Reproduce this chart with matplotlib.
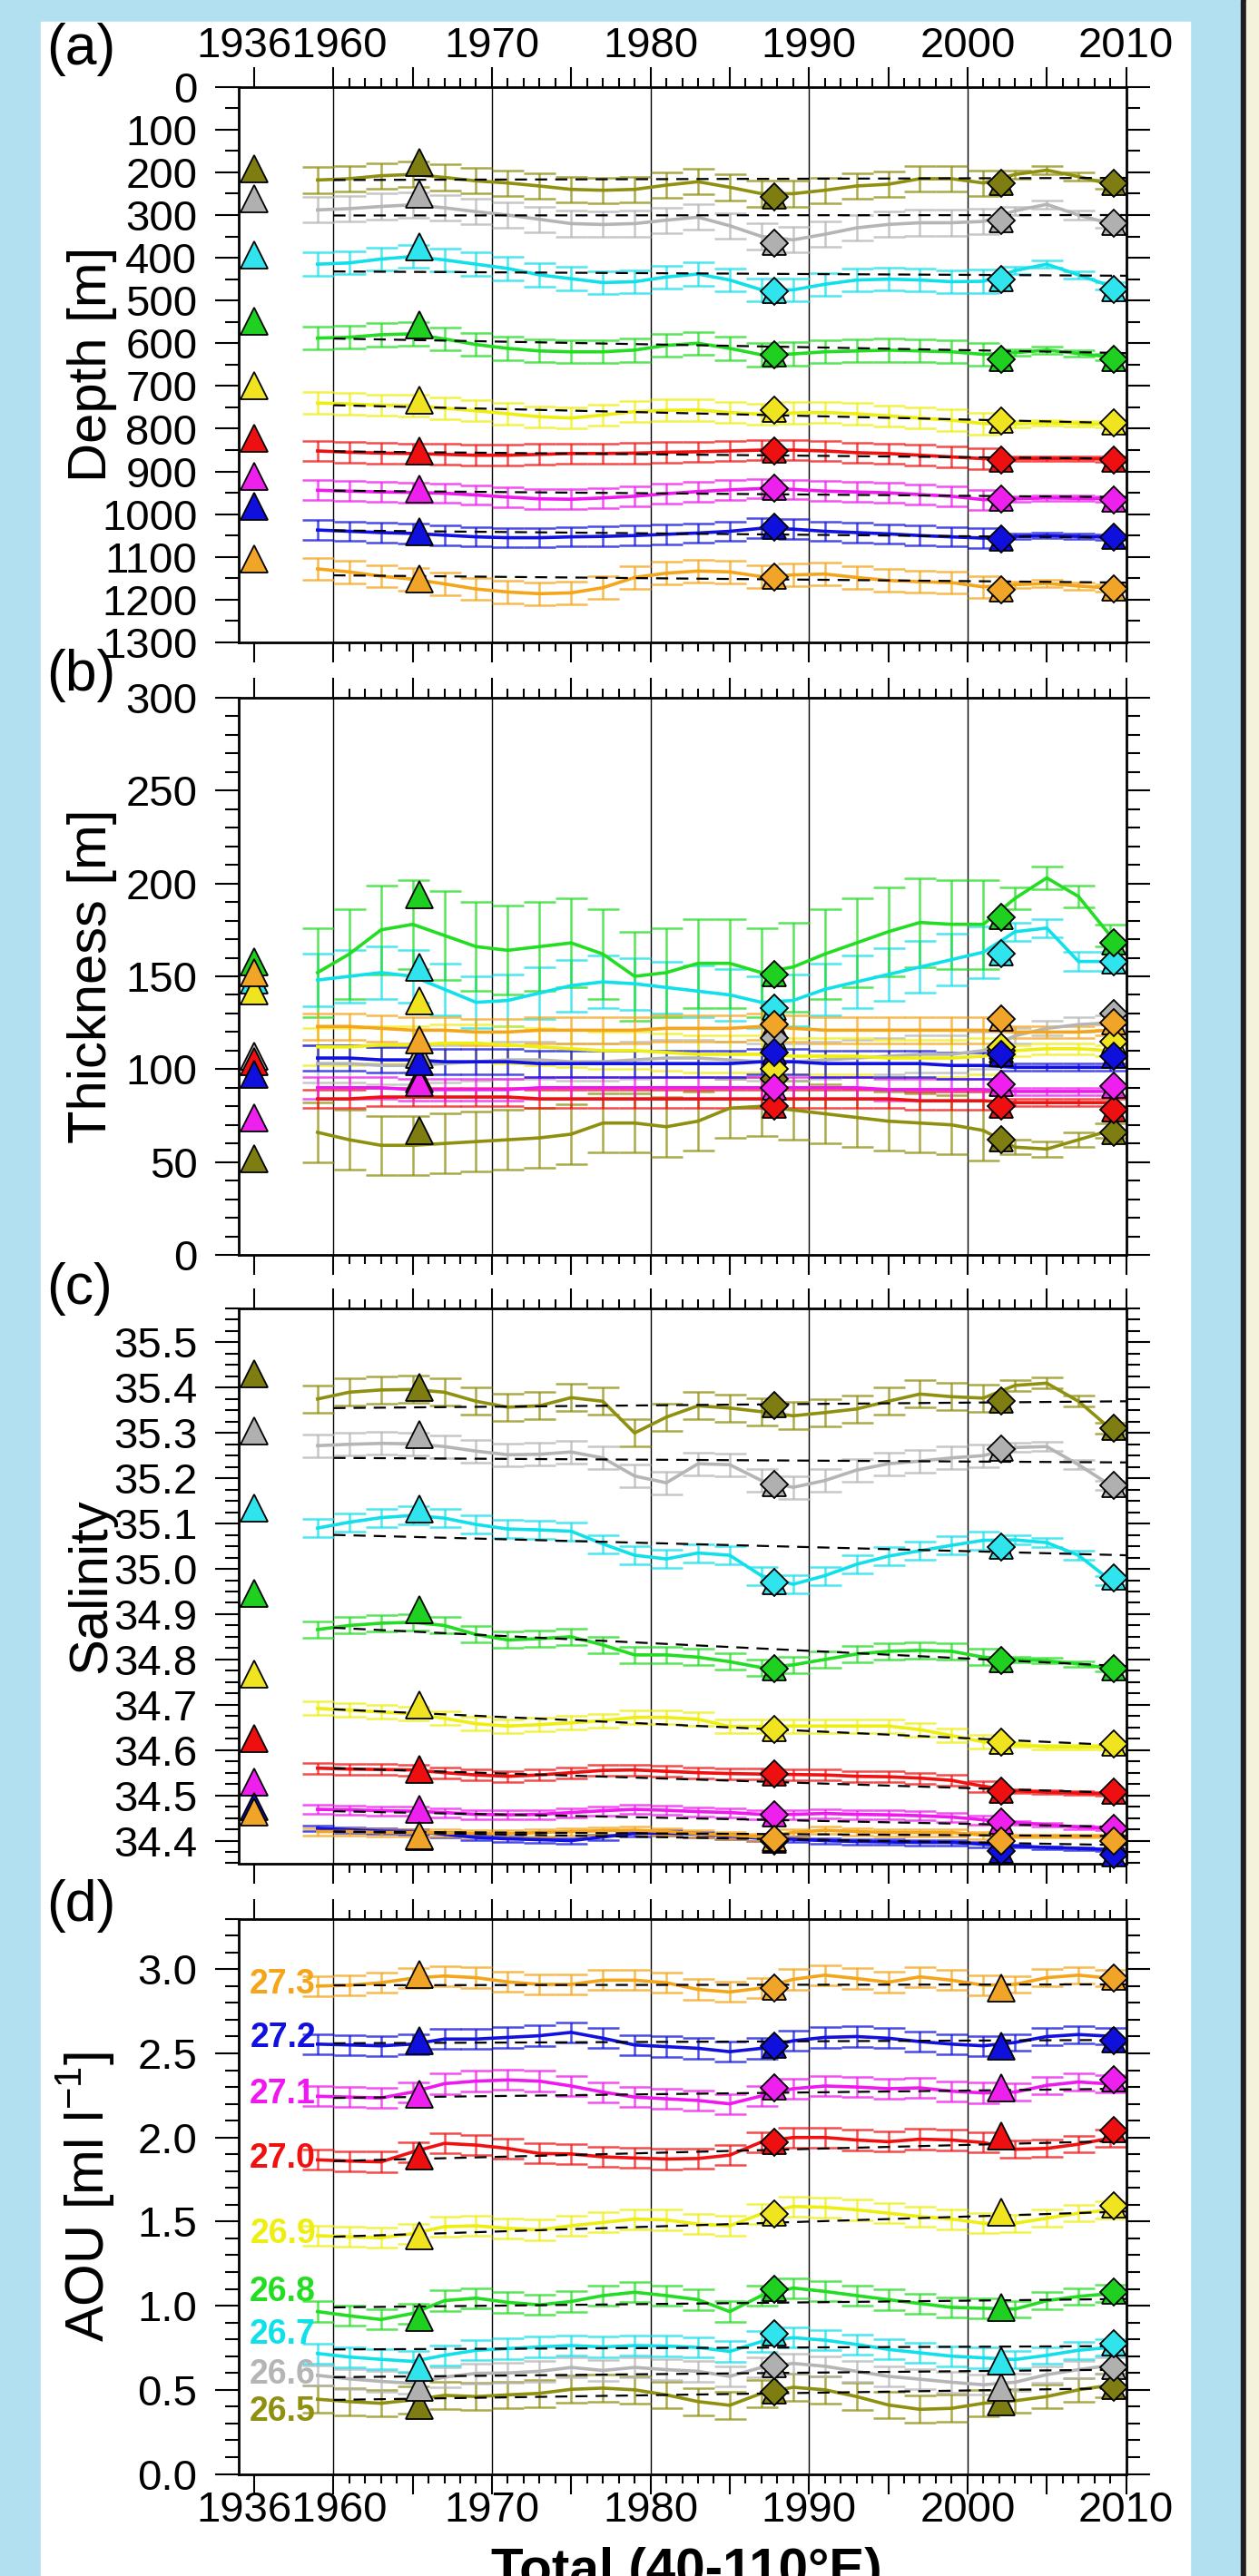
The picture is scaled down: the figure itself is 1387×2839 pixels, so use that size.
import numpy as np
import matplotlib.pyplot as plt
from matplotlib.patches import Rectangle
from matplotlib.ticker import FixedLocator, MultipleLocator, FormatStrFormatter

plt.rcParams['font.family'] = ['Liberation Sans', 'DejaVu Sans']
plt.rcParams['mathtext.fontset'] = 'custom'
plt.rcParams['mathtext.rm'] = 'Liberation Sans'

# ---------------- data ----------------
layers = ['26.5', '26.6', '26.7', '26.8', '26.9', '27.0', '27.1', '27.2', '27.3']
line_colors = ['#8f8f10', '#b5b5b5', '#10e0ea', '#22dd22', '#eeee10',
               '#f01010', '#f018f0', '#1010e0', '#f5a51a']
marker_colors = ['#7d7d12', '#b0b0b0', '#30e4ee', '#20d020', '#f0e420',
                 '#ee1010', '#ee20ee', '#1010dd', '#f0a428']

years = list(range(1959, 2010, 2))        # smoothed series, 1959..2009
n_main = 22                               # 1959..2001 carry the wide error bars
cruise_years = [1965.4, 1987.8, 2002.1, 2009.2]
year_1936 = 1955                          # where the 1936 survey is drawn on the broken axis

# (a) depth [m]
depth = [
    [218, 215, 208, 205, 212, 220, 225, 232, 240, 242, 240, 230, 222, 235, 250, 250, 242, 232, 228, 215, 215, 225, 205, 195, 210, 228],
    [288, 285, 280, 276, 283, 292, 300, 310, 320, 322, 320, 312, 305, 325, 350, 358, 345, 330, 322, 318, 318, 315, 290, 275, 300, 320],
    [415, 412, 403, 397, 405, 415, 425, 440, 449, 458, 456, 445, 438, 452, 475, 475, 462, 452, 450, 452, 456, 455, 430, 415, 440, 466],
    [588, 586, 580, 578, 590, 603, 612, 618, 620, 620, 616, 605, 600, 612, 627, 625, 620, 618, 616, 618, 620, 626, 622, 616, 624, 632],
    [740, 742, 745, 746, 752, 758, 765, 772, 775, 768, 760, 757, 756, 762, 766, 763, 762, 765, 770, 775, 780, 788, 789, 786, 788, 790],
    [852, 855, 857, 858, 860, 862, 862, 860, 858, 858, 857, 855, 854, 852, 850, 850, 852, 856, 858, 862, 866, 870, 870, 870, 870, 871],
    [944, 946, 948, 949, 951, 955, 960, 964, 965, 962, 958, 952, 947, 943, 940, 942, 946, 948, 950, 954, 958, 966, 964, 962, 963, 964],
    [1037, 1040, 1043, 1045, 1049, 1053, 1055, 1055, 1053, 1052, 1050, 1047, 1044, 1040, 1033, 1035, 1040, 1043, 1046, 1050, 1053, 1056, 1052, 1050, 1052, 1054],
    [1128, 1135, 1145, 1152, 1163, 1175, 1182, 1186, 1184, 1172, 1148, 1138, 1133, 1135, 1146, 1142, 1140, 1148, 1155, 1158, 1160, 1170, 1165, 1162, 1168, 1173],
]
depth_err = [30, 30, 27, 27, 25, 24, 23, 23, 26]
depth_err_late = [10, 10, 9, 8, 7, 6, 6, 6, 8]
depth_trend = [[218, 213], [301, 300], [432, 442], [589, 623], [745, 787],
               [853, 870], [945, 960], [1038, 1055], [1143, 1160]]
depth_1936 = [192, 262, 393, 548, 700, 823, 912, 982, 1105]
depth_cruise = [
    [177, 252, 374, 556, 733, 851, 941, 1042, 1151],
    [258, 365, 478, 627, 757, 851, 940, 1030, 1147],
    [225, 313, 450, 638, 782, 873, 965, 1057, 1176],
    [225, 320, 475, 638, 786, 873, 966, 1054, 1175],
]

# (b) thickness [m]
thick = [
    [66, 62, 59, 59, 60, 61, 62, 63, 65, 71, 71, 69, 72, 79, 80, 78, 76, 74, 72, 71, 70, 67, 58, 57, 62, 67],
    [103, 103, 102, 102, 103, 104, 105, 105, 104, 104, 105, 106, 106, 105, 104, 104, 105, 106, 107, 108, 108, 110, 118, 122, 124, 125],
    [148, 150, 152, 150, 143, 136, 137, 141, 145, 147, 146, 144, 142, 140, 136, 137, 143, 147, 151, 155, 159, 163, 174, 176, 158, 158],
    [152, 162, 175, 178, 172, 166, 164, 166, 168, 162, 150, 152, 157, 157, 152, 155, 162, 168, 174, 179, 178, 178, 192, 203, 193, 172],
    [112, 112, 113, 113, 114, 114, 113, 112, 111, 110, 110, 109, 108, 108, 108, 107, 107, 107, 106, 106, 106, 107, 110, 111, 111, 110],
    [84, 84, 85, 85, 85, 85, 85, 84, 84, 84, 84, 84, 84, 84, 84, 84, 84, 84, 84, 83, 83, 83, 82, 82, 82, 82],
    [90, 90, 90, 89, 89, 89, 89, 90, 90, 90, 90, 90, 90, 90, 90, 90, 90, 90, 89, 89, 89, 89, 88, 88, 88, 88],
    [106, 106, 105, 105, 104, 104, 104, 103, 103, 103, 103, 103, 103, 103, 104, 104, 103, 103, 103, 103, 102, 102, 101, 101, 101, 101],
    [123, 123, 122, 121, 121, 120, 120, 121, 121, 121, 121, 122, 122, 122, 123, 122, 121, 121, 121, 121, 121, 121, 120, 120, 120, 121],
]
thick_err = [16, 10, 14, 24, 10, 5, 6, 7, 7]
thick_err_late = [4, 4, 5, 6, 3, 2, 2, 2, 3]
thick_1936 = [52, 107, 148, 158, 142, 104, 74, 97, 152]
thick_cruise = [
    [67, 108, 155, 194, 137, 95, 93, 104, 116],
    [95, 117, 133, 151, 100, 80, 90, 109, 124],
    [62, 110, 162, 182, 112, 80, 92, 108, 127],
    [66, 130, 158, 168, 115, 78, 91, 107, 125],
]

# (c) salinity
salt = [
    [35.375, 35.39, 35.395, 35.396, 35.39, 35.37, 35.357, 35.36, 35.378, 35.37, 35.30, 35.335, 35.36, 35.355, 35.347, 35.338, 35.345, 35.353, 35.37, 35.386, 35.38, 35.377, 35.405, 35.41, 35.37, 35.31],
    [35.272, 35.275, 35.277, 35.276, 35.27, 35.26, 35.252, 35.253, 35.258, 35.245, 35.205, 35.19, 35.232, 35.23, 35.195, 35.18, 35.195, 35.218, 35.232, 35.238, 35.245, 35.25, 35.268, 35.27, 35.23, 35.185],
    [35.09, 35.103, 35.113, 35.118, 35.112, 35.098, 35.088, 35.086, 35.083, 35.055, 35.03, 35.022, 35.035, 35.03, 34.985, 34.966, 34.985, 35.01, 35.028, 35.04, 35.052, 35.063, 35.064, 35.058, 35.03, 34.975],
    [34.866, 34.875, 34.88, 34.882, 34.875, 34.855, 34.843, 34.846, 34.85, 34.832, 34.81, 34.81, 34.805, 34.795, 34.782, 34.788, 34.80, 34.812, 34.818, 34.82, 34.818, 34.805, 34.80, 34.797, 34.79, 34.78],
    [34.692, 34.688, 34.684, 34.68, 34.67, 34.658, 34.653, 34.656, 34.66, 34.665, 34.672, 34.672, 34.668, 34.652, 34.652, 34.653, 34.653, 34.653, 34.653, 34.645, 34.632, 34.618, 34.612, 34.607, 34.607, 34.607],
    [34.56, 34.558, 34.557, 34.556, 34.55, 34.545, 34.542, 34.545, 34.55, 34.555, 34.556, 34.553, 34.55, 34.548, 34.547, 34.546, 34.545, 34.542, 34.541, 34.538, 34.533, 34.52, 34.51, 34.507, 34.505, 34.503],
    [34.469, 34.468, 34.466, 34.465, 34.462, 34.458, 34.457, 34.458, 34.462, 34.466, 34.469, 34.467, 34.464, 34.462, 34.458, 34.458, 34.46, 34.458, 34.457, 34.455, 34.452, 34.446, 34.44, 34.435, 34.43, 34.427],
    [34.427, 34.424, 34.421, 34.42, 34.414, 34.407, 34.404, 34.402, 34.40, 34.408, 34.416, 34.417, 34.414, 34.41, 34.405, 34.403, 34.40, 34.398, 34.397, 34.396, 34.396, 34.392, 34.388, 34.385, 34.383, 34.38],
    [34.42, 34.42, 34.418, 34.418, 34.417, 34.416, 34.415, 34.418, 34.42, 34.422, 34.423, 34.42, 34.415, 34.412, 34.408, 34.418, 34.423, 34.42, 34.418, 34.418, 34.418, 34.412, 34.41, 34.41, 34.41, 34.41],
]
salt_err = [0.03, 0.025, 0.02, 0.018, 0.015, 0.012, 0.01, 0.006, 0.008]
salt_err_late = [0.012, 0.01, 0.01, 0.006, 0.005, 0.004, 0.004, 0.003, 0.003]
salt_trend = [[35.355, 35.37], [35.245, 35.235], [35.075, 35.03], [34.87, 34.785], [34.69, 34.61],
              [34.56, 34.505], [34.465, 34.43], [34.42, 34.39], [34.42, 34.41]]
salt_1936 = [35.43, 35.305, 35.135, 34.945, 34.768, 34.626, 34.53, 34.475, 34.463]
salt_cruise = [
    [35.40, 35.297, 35.132, 34.91, 34.70, 34.557, 34.47, 34.41, 34.412],
    [35.36, 35.186, 34.971, 34.78, 34.646, 34.547, 34.457, 34.40, 34.404],
    [35.37, 35.264, 35.048, 34.797, 34.618, 34.51, 34.442, 34.377, 34.40],
    [35.31, 35.185, 34.98, 34.78, 34.614, 34.507, 34.427, 34.37, 34.40],
]

# (d) AOU [ml/l]
aou = [
    [0.444, 0.43, 0.42, 0.44, 0.467, 0.46, 0.47, 0.479, 0.503, 0.51, 0.50, 0.47, 0.43, 0.408, 0.479, 0.515, 0.50, 0.46, 0.41, 0.384, 0.39, 0.42, 0.435, 0.46, 0.50, 0.527],
    [0.586, 0.565, 0.55, 0.539, 0.575, 0.598, 0.60, 0.61, 0.633, 0.615, 0.633, 0.62, 0.61, 0.58, 0.633, 0.657, 0.64, 0.61, 0.58, 0.563, 0.545, 0.53, 0.545, 0.59, 0.62, 0.645],
    [0.716, 0.695, 0.681, 0.669, 0.705, 0.735, 0.745, 0.755, 0.763, 0.755, 0.763, 0.76, 0.752, 0.728, 0.787, 0.81, 0.795, 0.77, 0.74, 0.72, 0.70, 0.69, 0.68, 0.705, 0.735, 0.752],
    [0.965, 0.94, 0.918, 0.954, 1.03, 1.045, 1.02, 1.005, 1.025, 1.06, 1.08, 1.06, 1.036, 0.965, 1.06, 1.105, 1.085, 1.06, 1.036, 1.013, 0.99, 0.985, 0.98, 1.03, 1.055, 1.072],
    [1.416, 1.41, 1.404, 1.428, 1.47, 1.475, 1.46, 1.451, 1.475, 1.495, 1.515, 1.51, 1.485, 1.475, 1.546, 1.59, 1.585, 1.57, 1.55, 1.53, 1.515, 1.49, 1.49, 1.52, 1.55, 1.569],
    [1.867, 1.86, 1.855, 1.914, 1.965, 1.955, 1.935, 1.905, 1.902, 1.885, 1.878, 1.872, 1.875, 1.895, 1.973, 2.00, 2.00, 1.985, 1.975, 1.99, 1.985, 1.97, 1.93, 1.935, 1.96, 1.996],
    [2.245, 2.24, 2.235, 2.27, 2.32, 2.335, 2.342, 2.335, 2.306, 2.27, 2.24, 2.23, 2.22, 2.20, 2.247, 2.29, 2.306, 2.30, 2.29, 2.295, 2.275, 2.265, 2.27, 2.31, 2.33, 2.318],
    [2.555, 2.55, 2.545, 2.555, 2.585, 2.585, 2.595, 2.605, 2.625, 2.59, 2.55, 2.54, 2.53, 2.51, 2.53, 2.575, 2.595, 2.60, 2.59, 2.57, 2.555, 2.545, 2.565, 2.60, 2.612, 2.602],
    [2.90, 2.905, 2.92, 2.947, 2.96, 2.95, 2.925, 2.91, 2.91, 2.935, 2.935, 2.92, 2.88, 2.865, 2.888, 2.94, 2.965, 2.945, 2.923, 2.955, 2.935, 2.905, 2.91, 2.95, 2.965, 2.947],
]
aou_err = [0.08, 0.06, 0.06, 0.06, 0.06, 0.06, 0.06, 0.06, 0.06]
aou_err_late = [0.07, 0.05, 0.05, 0.05, 0.05, 0.05, 0.05, 0.05, 0.05]
aou_trend = [[0.44, 0.51], [0.575, 0.62], [0.74, 0.76], [0.99, 1.04], [1.41, 1.56],
             [1.86, 1.98], [2.235, 2.29], [2.56, 2.58], [2.905, 2.91]]
aou_cruise = [
    [0.408, 0.516, 0.634, 0.93, 1.416, 1.89, 2.259, 2.578, 2.97],
    [0.49, 0.645, 0.835, 1.095, 1.546, 1.973, 2.294, 2.543, 2.888],
    [0.431, 0.516, 0.669, 0.99, 1.558, 2.008, 2.294, 2.543, 2.888],
    [0.515, 0.633, 0.776, 1.083, 1.593, 2.044, 2.342, 2.578, 2.947],
]
aou_label_y = [0.372, 0.593, 0.83, 1.084, 1.424, 1.874, 2.259, 2.591, 2.911]

# ---------------- figure ----------------
W, H = 1387, 2839
fig = plt.figure(figsize=(W / 100, H / 100), dpi=100, facecolor='#b3e0f0')
fig.patches.append(Rectangle((45 / W, 0), (1311 - 45) / W, (H - 24) / H,
                             transform=fig.transFigure, color='white', zorder=-10))
fig.patches.append(Rectangle((1367 / W, 0), 6 / W, 1, transform=fig.transFigure,
                             color='#1e1e1e', zorder=-10))
fig.patches.append(Rectangle((1373 / W, 0), (W - 1373) / W, 1, transform=fig.transFigure,
                             color='#f5f2dc', zorder=-10))

left, width = 262.5 / W, 978 / W
boxes = [(95.7, 708), (769, 1383), (1442, 2053.5), (2114.7, 2726.5)]
axes = [fig.add_axes([left, 1 - b / H, width, (b - t) / H]) for t, b in boxes]

TICK_FS = 34
major_x = list(range(1955, 2011, 5))
minor_x = [y for y in range(1961, 2010) if y % 5]
xlabels = ['' if (y % 10 or y < 1970) else str(y) for y in major_x]


def draw_panel(ax, series, err, err_late, trend, v1936, cruise, diamond_flags):
    for yr in [1960, 1970, 1980, 1990, 2000]:
        ax.axvline(yr, color='black', lw=1.0, zorder=1)
    for i in range(9):
        y = series[i]
        c = line_colors[i]
        ax.errorbar(years[:n_main], y[:n_main], yerr=err[i], fmt='none', ecolor=c,
                    alpha=0.75, elinewidth=1.8, capsize=12.6, capthick=1.8, zorder=2)
        ax.errorbar(years[n_main:], y[n_main:], yerr=err_late[i], fmt='none', ecolor=c,
                    alpha=0.75, elinewidth=1.8, capsize=12.6, capthick=1.8, zorder=2)
        ax.plot(years, y, color=c, lw=2.6, zorder=3)
        if trend is not None:
            ax.plot([1960, 2010], trend[i], color='black', lw=1.6, dashes=(6, 4), zorder=4)
    for i in range(9):
        mc = marker_colors[i]
        if v1936 is not None:
            ax.plot(year_1936, v1936[i], '^', ms=21, mfc=mc, mec='black', mew=1.3,
                    zorder=6, clip_on=False)
        for k, xk in enumerate(cruise_years):
            ax.plot(xk, cruise[k][i], '^', ms=21 if not diamond_flags[k] else 19,
                    mfc=mc, mec='black', mew=1.3, zorder=6, clip_on=False)
            if diamond_flags[k]:
                ax.plot(xk, cruise[k][i], 'D', ms=15, mfc=mc, mec='black', mew=1.3,
                        zorder=7, clip_on=False)

    ax.set_xlim(1954, 2010)
    ax.xaxis.set_major_locator(FixedLocator(major_x))
    ax.xaxis.set_minor_locator(FixedLocator(minor_x))
    ax.set_xticklabels(xlabels)
    ax.tick_params(axis='x', which='both', top=True, bottom=True, direction='out',
                   labeltop=False, labelbottom=False, labelsize=TICK_FS)
    ax.tick_params(axis='x', which='major', length=16, width=1.5)
    ax.tick_params(axis='x', which='minor', length=7, width=1.5)
    ax.tick_params(axis='y', which='both', left=True, right=True, direction='out',
                   labelleft=True, labelright=False, labelsize=TICK_FS, pad=14)
    ax.tick_params(axis='y', which='major', length=18.5, width=1.5)
    ax.tick_params(axis='y', which='minor', length=10.5, width=1.5)
    for s in ax.spines.values():
        s.set_linewidth(2.0)
    ax.yaxis.set_label_coords(-0.137, 0.5)


diam = [False, True, True, True]
ax_a, ax_b, ax_c, ax_d = axes

draw_panel(ax_a, depth, depth_err, depth_err_late, depth_trend, depth_1936, depth_cruise, diam)
ax_a.set_ylim(1300, 0)
ax_a.yaxis.set_major_locator(MultipleLocator(100))
ax_a.yaxis.set_minor_locator(MultipleLocator(50))
ax_a.set_ylabel('Depth [m]', fontsize=43)
ax_a.tick_params(axis='x', labeltop=True, pad=0)

draw_panel(ax_b, thick, thick_err, thick_err_late, None, thick_1936, thick_cruise, diam)
ax_b.set_ylim(0, 300)
ax_b.yaxis.set_major_locator(MultipleLocator(50))
ax_b.yaxis.set_minor_locator(MultipleLocator(10))
ax_b.set_ylabel('Thickness [m]', fontsize=43)

draw_panel(ax_c, salt, salt_err, salt_err_late, salt_trend, salt_1936, salt_cruise, diam)
ax_c.set_ylim(34.35, 35.575)
ax_c.yaxis.set_major_locator(MultipleLocator(0.1))
ax_c.yaxis.set_minor_locator(MultipleLocator(0.025))
ax_c.yaxis.set_major_formatter(FormatStrFormatter('%.1f'))
ax_c.set_ylabel('Salinity', fontsize=43)

draw_panel(ax_d, aou, aou_err, aou_err_late, aou_trend, None, aou_cruise, [False, True, False, True])
ax_d.set_ylim(0, 3.3)
ax_d.yaxis.set_major_locator(MultipleLocator(0.5))
ax_d.yaxis.set_minor_locator(MultipleLocator(0.1))
ax_d.yaxis.set_major_formatter(FormatStrFormatter('%.1f'))
ax_d.set_ylabel('AOU [ml l$^{-1}$]', fontsize=43)
ax_d.tick_params(axis='x', labelbottom=True, pad=-3)
for i, lab in enumerate(layers):
    ax_d.text(1958.9, aou_label_y[i], lab, color=line_colors[i], fontsize=27,
              fontweight='bold', ha='right', va='center', zorder=8)

# merged "1936" / "1960" labels of the broken time axis
ax_a.annotate('19361960', xy=(1957.4, 1), xycoords=('data', 'axes fraction'),
              xytext=(0, 16), textcoords='offset points', ha='center', va='bottom',
              fontsize=TICK_FS)
ax_d.annotate('19361960', xy=(1957.4, 0), xycoords=('data', 'axes fraction'),
              xytext=(0, -13), textcoords='offset points', ha='center', va='top',
              fontsize=TICK_FS)

for lab, yc in zip(['(a)', '(b)', '(c)', '(d)'], [55, 744, 1420, 2101]):
    fig.text(51 / W, 1 - yc / H, lab, fontsize=45, ha='left', va='center')

fig.text(756 / W, 1 - 2807 / H, 'Total (40-110°E)', fontsize=42, fontweight='bold',
         ha='center', va='top')

fig.savefig('out.png', dpi=100, facecolor=fig.get_facecolor())
